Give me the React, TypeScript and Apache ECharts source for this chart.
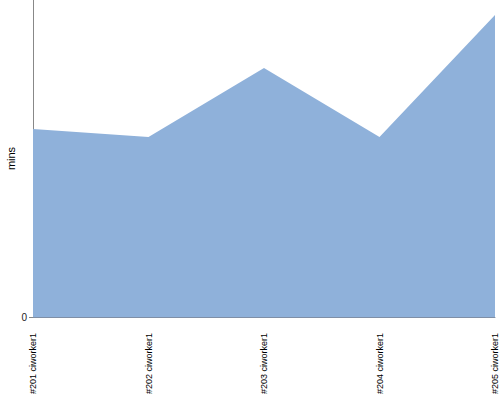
import React, { useEffect, useRef } from "react";
import * as echarts from "echarts";

const categories = ["#201 ciworker1", "#202 ciworker1", "#203 ciworker1", "#204 ciworker1", "#205 ciworker1"];
const minutes = [18.8, 18.0, 24.9, 18.0, 30.2];
const yMax = 31.7;

export default function App() {
  const ref = useRef<HTMLDivElement>(null);
  useEffect(() => {
    const chart = echarts.init(ref.current!, null, { renderer: "svg" });
    chart.setOption({
      animation: false,
      grid: { left: 33, right: 5, top: 0, bottom: 83, containLabel: false, outerBoundsMode: "none" },
      xAxis: {
        type: "category",
        data: categories,
        boundaryGap: false,
        axisLine: { lineStyle: { color: "#7f8fa6" } },
        axisTick: { show: false },
        axisLabel: {
          rotate: 90,
          margin: 16,
          fontSize: 9,
          fontFamily: "Liberation Sans",
          color: "#000",
          interval: 0,
          showMaxLabel: true,
          hideOverlap: false,
        },
      },
      yAxis: {
        type: "value",
        min: 0,
        max: yMax,
        interval: yMax,
        name: "mins",
        nameLocation: "middle",
        nameGap: 17,
        nameMoveOverlap: false,
        nameTextStyle: { fontSize: 11, fontFamily: "Liberation Sans", color: "#000" },
        splitLine: { show: false },
        axisLine: { show: true, lineStyle: { color: "#888" } },
        axisTick: { show: true, length: 4, lineStyle: { color: "#888" } },
        axisLabel: {
          showMaxLabel: false,
          fontSize: 10,
          fontFamily: "Liberation Sans",
          color: "#222",
          margin: 6,
        },
      },
      series: [
        {
          type: "line",
          data: minutes,
          symbol: "none",
          lineStyle: { width: 0 },
          areaStyle: { color: "#8fb1da", opacity: 1 },
          itemStyle: { color: "#8fb1da" },
        },
      ],
    });
    return () => chart.dispose();
  }, []);
  return <div ref={ref} style={{ width: 500, height: 400, position: "absolute", left: 0, top: 0 }} />;
}
